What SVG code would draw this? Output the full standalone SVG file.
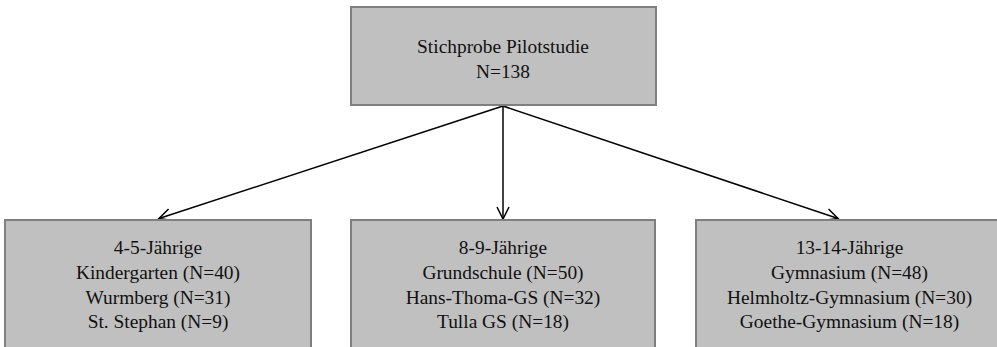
<svg xmlns="http://www.w3.org/2000/svg" width="997" height="347" viewBox="0 0 997 347">
  <style>
    .box { fill: #c0c0c0; stroke: #7f7f7f; stroke-width: 2; }
    .lbl { font-size: 19.4px; fill: #111; text-anchor: middle; }
    .edge { stroke: #000; stroke-width: 1.5; fill: none; }
  </style>
  <defs>
    <marker id="open-arrow" markerUnits="userSpaceOnUse" markerWidth="16" markerHeight="16" refX="13" refY="7" orient="auto">
      <path d="M1,1 L13,7 L1,13" fill="none" stroke="#000" stroke-width="1.5"/>
    </marker>
  </defs>

  <rect width="997" height="347" fill="#fff"/>

  <g id="connectors">
    <line class="edge" x1="503" y1="106" x2="159" y2="218.5" marker-end="url(#open-arrow)"/>
    <line class="edge" x1="503" y1="106" x2="503" y2="219" marker-end="url(#open-arrow)"/>
    <line class="edge" x1="503" y1="106" x2="838" y2="218.5" marker-end="url(#open-arrow)"/>
  </g>

  <g font-family="'Liberation Serif', 'Times New Roman', Times, serif">
    <g id="root">
      <rect class="box" x="351" y="7" width="305" height="98"/>
      <text class="lbl" x="503" y="53">Stichprobe Pilotstudie</text>
      <text class="lbl" x="503" y="78">N=138</text>
    </g>

    <g id="age-4-5">
      <rect class="box" x="5" y="220" width="306" height="150"/>
      <text class="lbl" x="158" y="254">4-5-Jährige</text>
      <text class="lbl" x="158" y="279">Kindergarten (N=40)</text>
      <text class="lbl" x="158" y="303.5">Wurmberg (N=31)</text>
      <text class="lbl" x="158" y="328">St. Stephan (N=9)</text>
    </g>

    <g id="age-8-9">
      <rect class="box" x="351" y="220" width="304" height="150"/>
      <text class="lbl" x="503" y="254">8-9-Jährige</text>
      <text class="lbl" x="503" y="279">Grundschule (N=50)</text>
      <text class="lbl" x="503" y="303.5">Hans-Thoma-GS (N=32)</text>
      <text class="lbl" x="503" y="328">Tulla GS (N=18)</text>
    </g>

    <g id="age-13-14">
      <rect class="box" x="696" y="220" width="307" height="150"/>
      <text class="lbl" x="849.5" y="254">13-14-Jährige</text>
      <text class="lbl" x="849.5" y="279">Gymnasium (N=48)</text>
      <text class="lbl" x="849.5" y="303.5">Helmholtz-Gymnasium (N=30)</text>
      <text class="lbl" x="849.5" y="328">Goethe-Gymnasium (N=18)</text>
    </g>
  </g>
</svg>
